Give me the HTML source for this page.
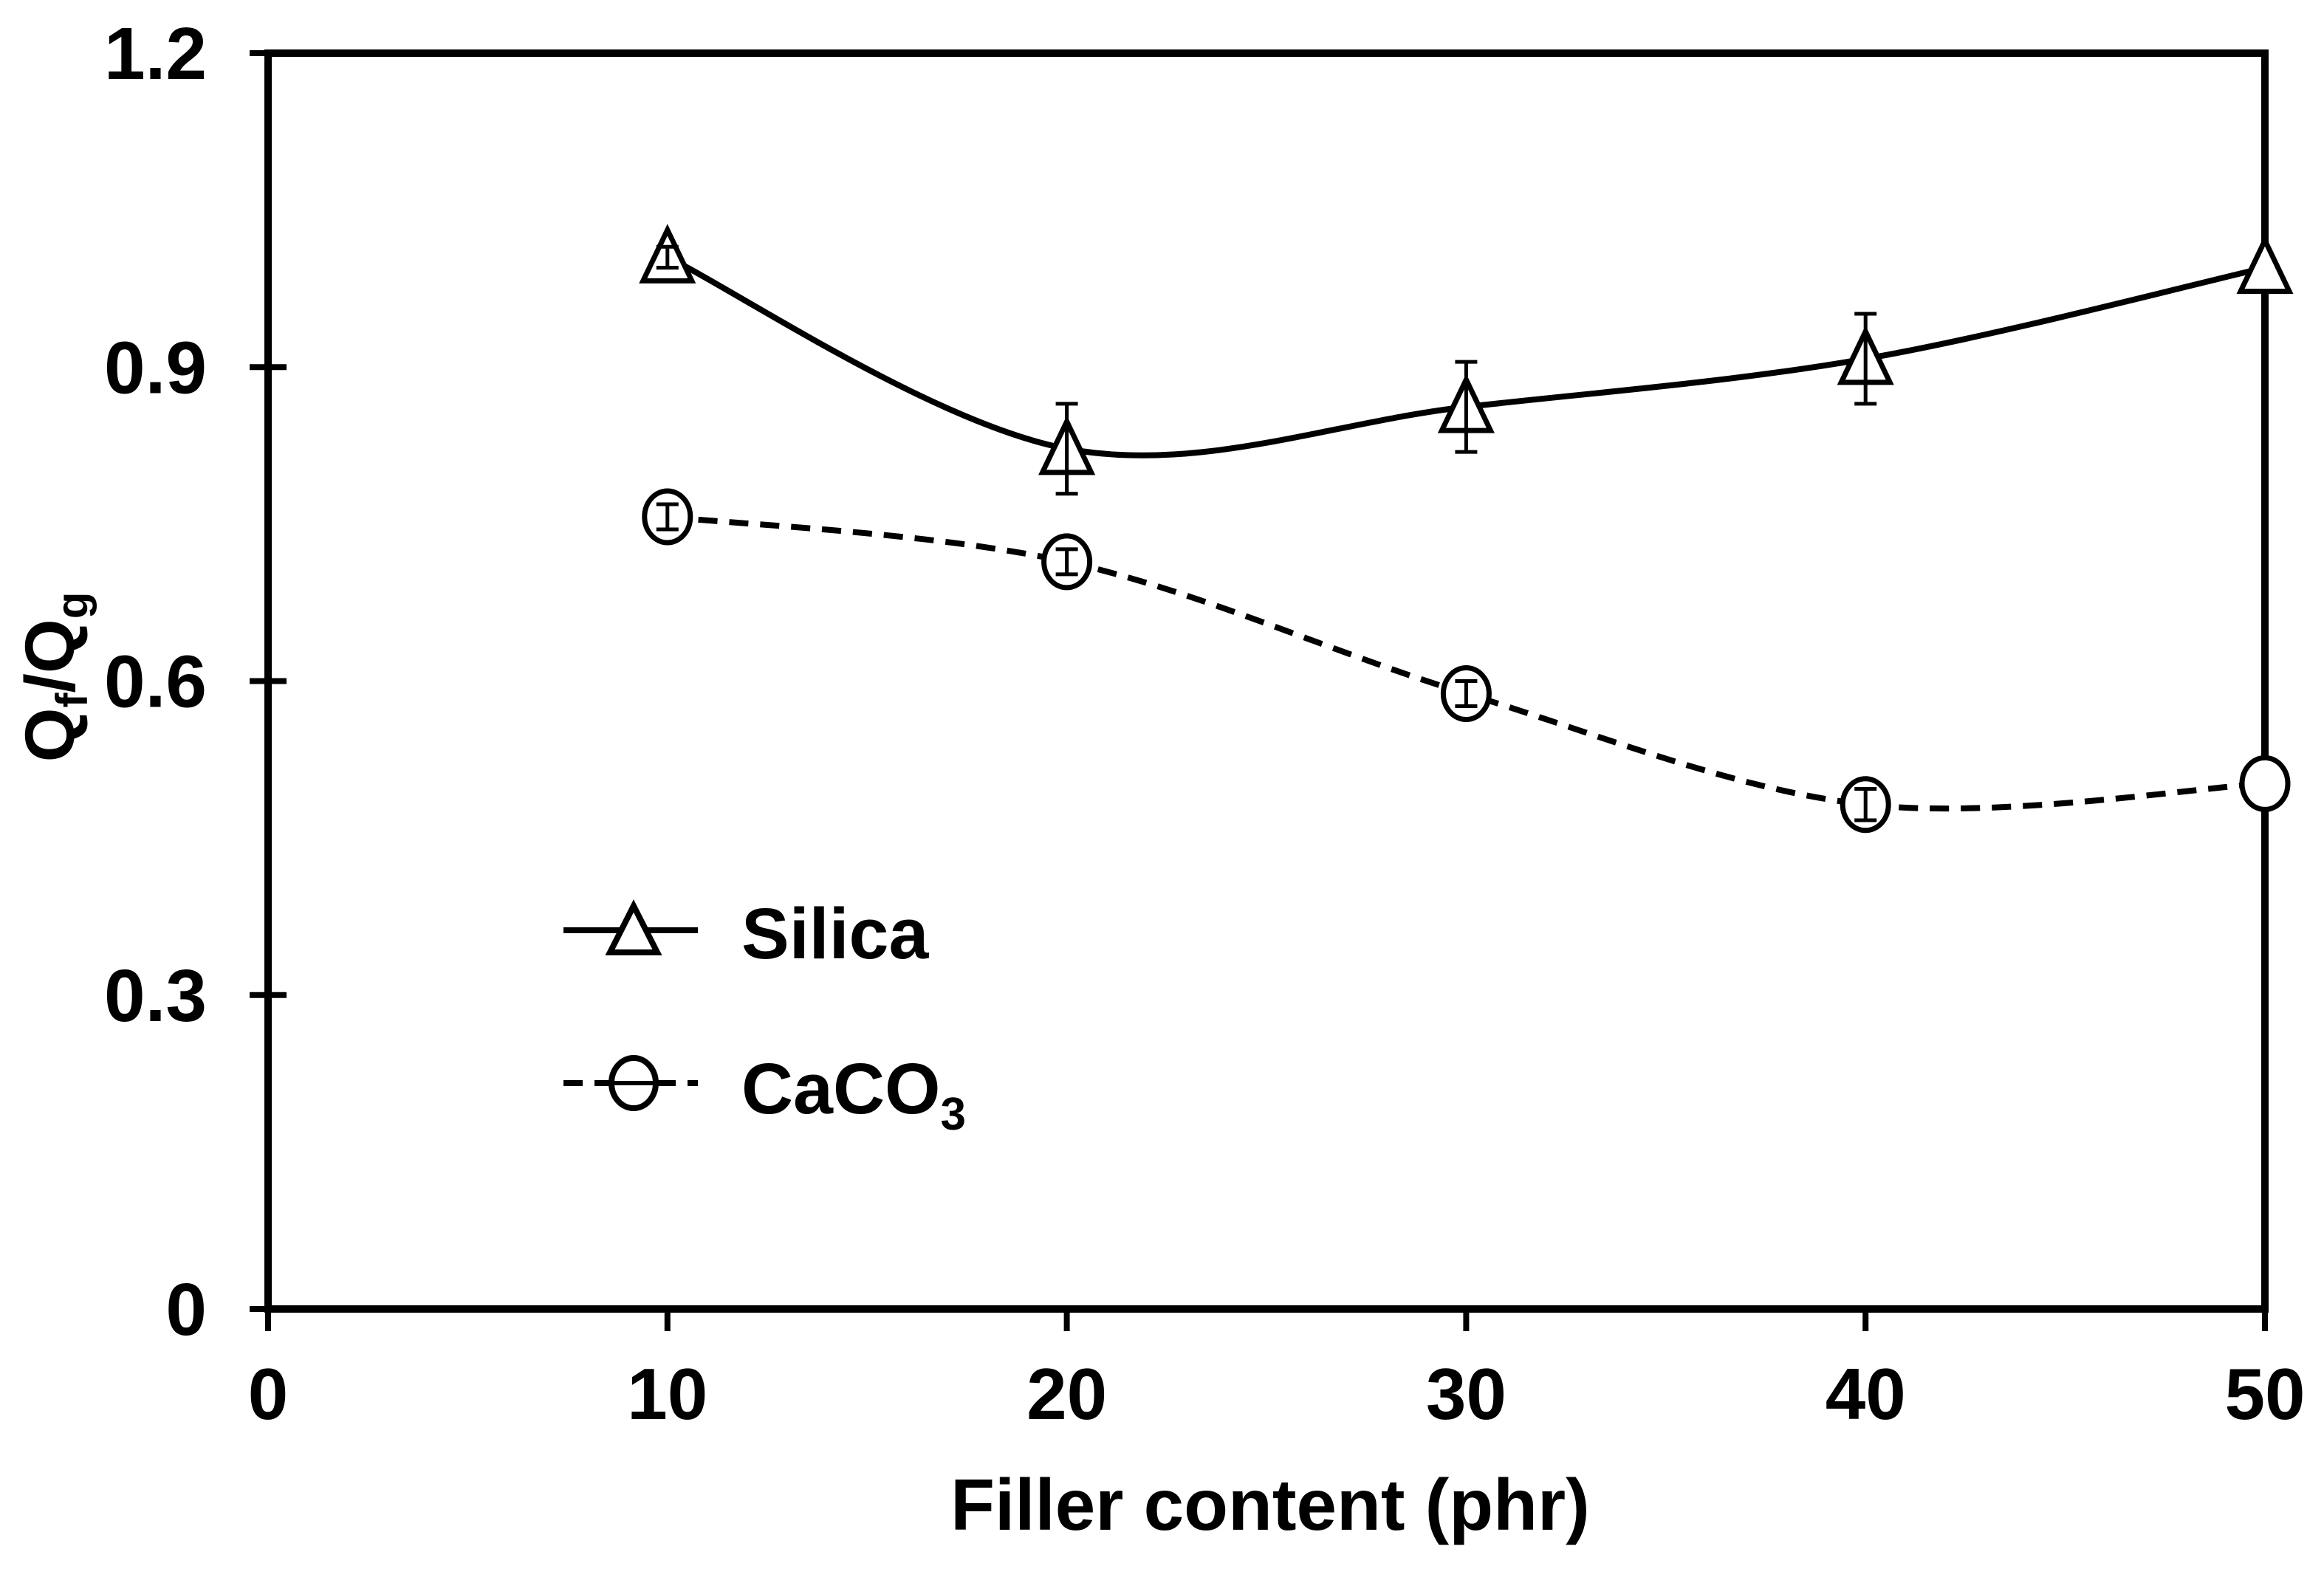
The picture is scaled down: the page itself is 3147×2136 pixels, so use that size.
<!DOCTYPE html>
<html><head><meta charset="utf-8"><style>
html,body{margin:0;padding:0;background:#fff;}
svg{display:block;font-family:"Liberation Sans",Arial,sans-serif;font-weight:bold;}
</style></head><body>
<svg id="chart" width="3147" height="2136" viewBox="0 0 3147 2136">
<g id="axes"></g>
<g id="series"></g>
<g id="legend">
  <line x1="763" y1="1260" x2="945" y2="1260" stroke="#000" stroke-width="8"/>
  <path d="M858 1227 L890 1290 L826 1290 Z" fill="#fff" stroke="#000" stroke-width="8"/>
  <text x="1004" y="1298" font-size="97">Silica</text>
  <line x1="763" y1="1467" x2="945" y2="1467" stroke="#000" stroke-width="8" stroke-dasharray="26,16"/>
  <ellipse cx="858" cy="1467" rx="30" ry="34" fill="#fff" stroke="#000" stroke-width="8"/>
  <line x1="832" y1="1467" x2="884" y2="1467" stroke="#000" stroke-width="6"/>
  <text x="1004" y="1508" font-size="97">CaCO<tspan font-size="62" dy="22">3</tspan></text>
</g>
<text x="1720" y="2072" font-size="98" text-anchor="middle">Filler content (phr)</text>
<text transform="translate(100,917) rotate(-90)" font-size="95" text-anchor="middle">Q<tspan font-size="60" dy="18">f</tspan><tspan dy="-18">/Q</tspan><tspan font-size="60" dy="18">g</tspan></text>
</svg>
<script>
const xTicks = [0, 10, 20, 30, 40, 50];
const yTicks = [0, 0.3, 0.6, 0.9, 1.2];
const yTickLabels = ["0", "0.3", "0.6", "0.9", "1.2"];
const fillerContent = [10, 20, 30, 40, 50];
const silicaValues = [1.005, 0.822, 0.862, 0.908, 0.995];
const silicaErrors = [0.01, 0.043, 0.043, 0.043, 0.0];
const caco3Values = [0.757, 0.714, 0.588, 0.482, 0.502];
const caco3Errors = [0.012, 0.012, 0.012, 0.015, 0.0];

const X0 = 363, X1 = 3067, Y0 = 1773, Y1 = 72;
function xs(v){ return X0 + (v - 0) / 50 * (X1 - X0); }
function ys(v){ return Y0 - (v - 0) / 1.2 * (Y0 - Y1); }
const NS = "http://www.w3.org/2000/svg";
function mk(tag, attrs, parent){
  const e = document.createElementNS(NS, tag);
  for (const k in attrs) e.setAttribute(k, attrs[k]);
  parent.appendChild(e); return e;
}
const axes = document.getElementById('axes');
const series = document.getElementById('series');

let f = mk('rect', {x:X0, y:Y1, width:X1-X0, height:Y0-Y1, fill:'none', stroke:'#000', 'stroke-width':10}, axes);



yTicks.forEach((t, i) => {
  const y = ys(t);
  const tk = mk('line', {x1:X0-25, x2:X0+25, y1:y, y2:y, stroke:'#000', 'stroke-width':8}, axes);
  
  
  const tx = mk('text', {x:280, y:y+35, 'font-size':100, 'text-anchor':'end'}, axes);
  tx.textContent = yTickLabels[i];
  
  
});
xTicks.forEach(t => {
  const x = xs(t);
  const tk = mk('line', {x1:x, x2:x, y1:Y0, y2:Y0+30, stroke:'#000', 'stroke-width':8}, axes);
  
  
  const tx = mk('text', {x:x, y:1922, 'font-size':98, 'text-anchor':'middle'}, axes);
  tx.textContent = String(t);
  
  
});

function smoothPath(pts){
  let d = 'M' + pts[0][0] + ' ' + pts[0][1];
  for (let i = 0; i < pts.length - 1; i++){
    const p0 = pts[Math.max(0, i-1)], p1 = pts[i], p2 = pts[i+1], p3 = pts[Math.min(pts.length-1, i+2)];
    const t = 1/6;
    const c1 = [p1[0] + (p2[0]-p0[0])*t, p1[1] + (p2[1]-p0[1])*t];
    const c2 = [p2[0] - (p3[0]-p1[0])*t, p2[1] - (p3[1]-p1[1])*t];
    d += ' C' + c1[0] + ' ' + c1[1] + ' ' + c2[0] + ' ' + c2[1] + ' ' + p2[0] + ' ' + p2[1];
  }
  return d;
}

function drawSeries(vals, errs, name, dashed, marker){
  const pts = fillerContent.map((x, i) => [xs(x), ys(vals[i])]);
  const attrs = {d:smoothPath(pts), fill:'none', stroke:'#000', 'stroke-width':8};
  if (dashed) attrs['stroke-dasharray'] = '26,16';
  const ln = mk('path', attrs, series);
  
  
  pts.forEach((p, i) => {
    let m;
    if (marker === 'triangle'){
      m = mk('path', {d:'M'+p[0]+' '+(p[1]-37)+' L'+(p[0]+33)+' '+(p[1]+32)+' L'+(p[0]-33)+' '+(p[1]+32)+' Z', fill:'#fff', stroke:'#000', 'stroke-width':7}, series);
    } else {
      m = mk('ellipse', {cx:p[0], cy:p[1], rx:31, ry:35, fill:'#fff', stroke:'#000', 'stroke-width':7}, series);
    }
    
    
    if (errs[i] > 0){
      const yt = ys(vals[i] + errs[i]), yb = ys(vals[i] - errs[i]);
      const g = mk('path', {d:'M'+p[0]+' '+yt+' V'+yb+' M'+(p[0]-15)+' '+yt+' H'+(p[0]+15)+' M'+(p[0]-15)+' '+yb+' H'+(p[0]+15), stroke:'#000', 'stroke-width':5, fill:'none'}, series);
      
      
    }
  });
}
drawSeries(silicaValues, silicaErrors, 'silica', false, 'triangle');
drawSeries(caco3Values, caco3Errors, 'caco3', true, 'circle');
</script>
</body></html>
